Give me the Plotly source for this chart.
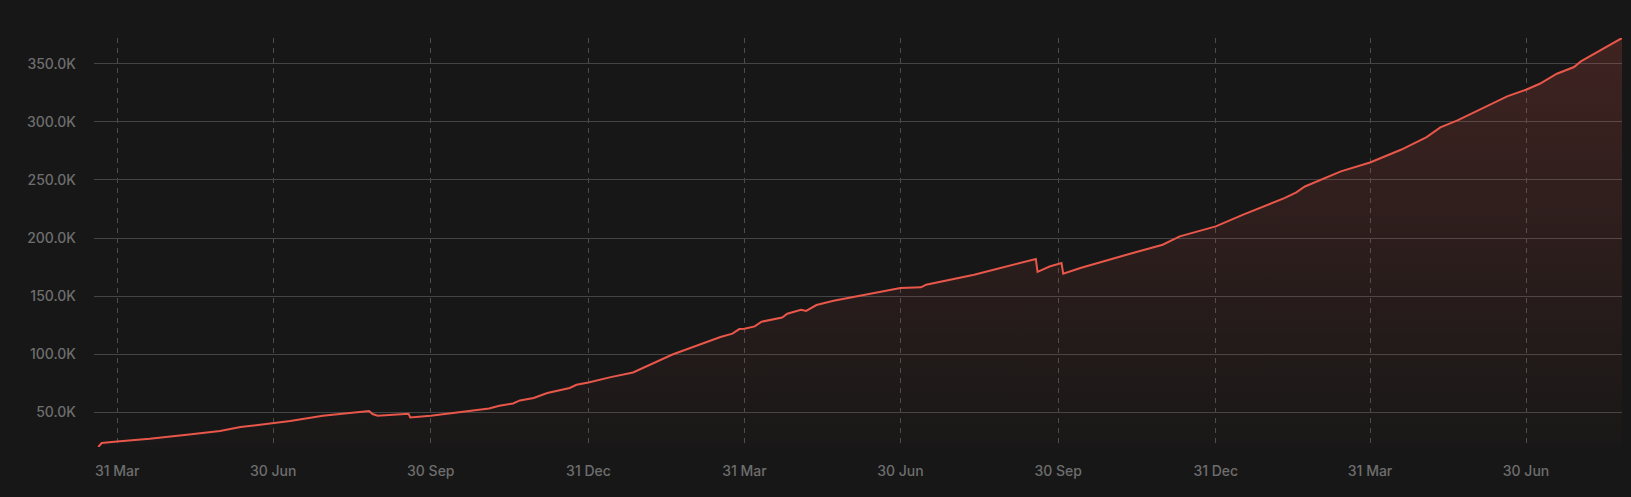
import plotly.graph_objects as go

dates = [
    "2023-03-20", "2023-03-22", "2023-03-31", "2023-04-19", "2023-05-12", "2023-05-30",
    "2023-06-11", "2023-06-30", "2023-07-10", "2023-07-29", "2023-08-14", "2023-08-25",
    "2023-08-27", "2023-08-30", "2023-09-17", "2023-09-18", "2023-09-30", "2023-10-15",
    "2023-11-03", "2023-11-09", "2023-11-17", "2023-11-21", "2023-11-29", "2023-12-07",
    "2023-12-20", "2023-12-24", "2023-12-31", "2024-01-13", "2024-01-26", "2024-02-18",
    "2024-03-17", "2024-03-24", "2024-03-28", "2024-03-31", "2024-04-06", "2024-04-10",
    "2024-04-22", "2024-04-25", "2024-05-03", "2024-05-06", "2024-05-09", "2024-05-12",
    "2024-05-22", "2024-06-14", "2024-06-30", "2024-07-12", "2024-07-15", "2024-08-12",
    "2024-09-17", "2024-09-18", "2024-09-25", "2024-10-02", "2024-10-03", "2024-10-13",
    "2024-10-26", "2024-11-11", "2024-11-30", "2024-12-10", "2024-12-31", "2025-01-16",
    "2025-02-09", "2025-02-16", "2025-02-21", "2025-03-03", "2025-03-14", "2025-03-31",
    "2025-04-18", "2025-05-03", "2025-05-11", "2025-05-21", "2025-06-11", "2025-06-19",
    "2025-06-30", "2025-07-08", "2025-07-18", "2025-07-28", "2025-08-01", "2025-08-25",
]
values = [
    20000, 23400, 24800, 27100, 30800, 33800,
    37200, 40600, 42400, 46900, 49300, 51000,
    48400, 46900, 48700, 45500, 46900, 49500,
    53200, 55600, 57500, 60100, 62200, 66500,
    70800, 73600, 75600, 80200, 84200, 99700,
    114700, 117600, 121600, 121900, 123900, 127900,
    131600, 134800, 138200, 137200, 139400, 142300,
    146000, 152600, 156900, 157500, 159800, 168400,
    181900, 170900, 175500, 178500, 169200, 174200,
    179800, 186500, 194200, 201400, 210000, 220100,
    234400, 239300, 244400, 250800, 257400, 265100,
    276000, 286900, 295300, 301300, 316300, 322000,
    327700, 332900, 341500, 347300, 352100, 372300,
]

x_range_start = "2023-03-17 12:00"
x_tick_dates = [
    "2023-03-31", "2023-06-30", "2023-09-30", "2023-12-31", "2024-03-31",
    "2024-06-30", "2024-09-30", "2024-12-31", "2025-03-31", "2025-06-30",
]
x_tick_labels = ["31 Mar", "30 Jun", "30 Sep", "31 Dec", "31 Mar",
                 "30 Jun", "30 Sep", "31 Dec", "31 Mar", "30 Jun"]
y_tick_values = [50000, 100000, 150000, 200000, 250000, 300000, 350000]
y_tick_labels = ["50.0K", "100.0K", "150.0K", "200.0K", "250.0K", "300.0K", "350.0K"]

LINE = "#e8574a"
BG = "#171717"

fig = go.Figure()
fig.add_trace(go.Scatter(
    x=dates, y=values, mode="lines",
    line=dict(color=LINE, width=2),
    fill="tozeroy",
    fillgradient=dict(
        type="vertical",
        colorscale=[[0, "rgba(232,87,74,0.0)"], [1, "rgba(232,87,74,0.19)"]],
    ),
    hoverinfo="skip",
))

tick_font = dict(family="Inter, Roboto, sans-serif", size=14, color="#6e6e6e", weight=500)

fig.update_layout(
    width=1631, height=497,
    paper_bgcolor=BG, plot_bgcolor=BG,
    margin=dict(l=94, r=9, t=38, b=50),
    showlegend=False,
    xaxis=dict(
        type="date",
        range=[x_range_start, dates[-1]],
        tickvals=x_tick_dates, ticktext=x_tick_labels,
        showgrid=True, gridcolor="#4c4c4c", gridwidth=1, griddash="5px,5px",
        zeroline=False, showline=False, ticks="",
        tickfont=tick_font, ticklabelstandoff=14,
    ),
    yaxis=dict(
        range=[min(values), max(values)],
        tickvals=y_tick_values, ticktext=y_tick_labels,
        showgrid=True, gridcolor="#444444", gridwidth=1,
        zeroline=False, showline=False, ticks="",
        tickfont=tick_font, ticklabelstandoff=17,
    ),
)

fig.write_html(
    "out.html",
    config={"displayModeBar": False},
    post_script="document.body.style.margin='0';document.body.style.background='#171717';document.documentElement.style.background='#171717';",
)
